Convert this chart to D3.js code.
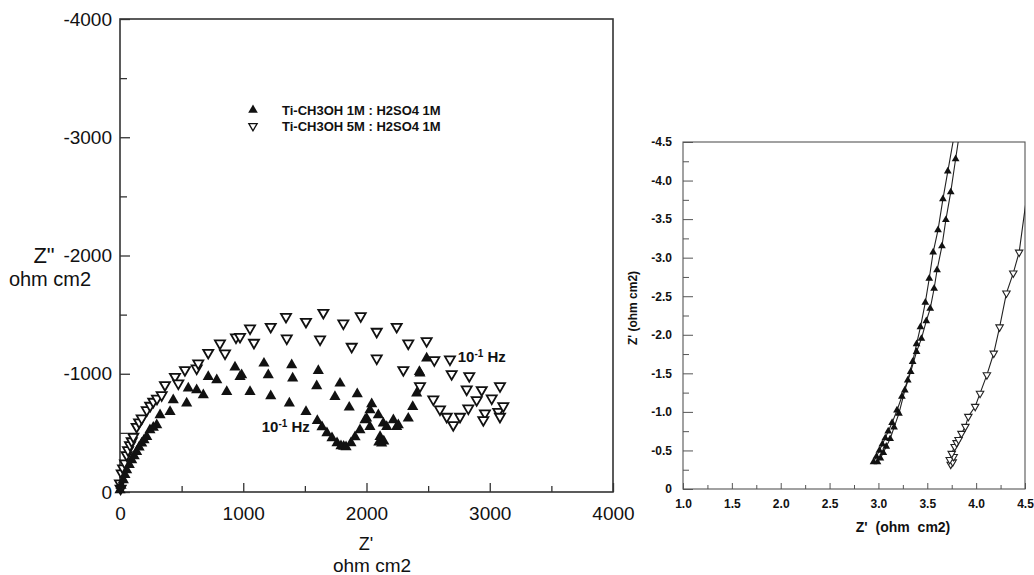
<!DOCTYPE html>
<html>
<head>
<meta charset="utf-8">
<script src="https://cdn.jsdelivr.net/npm/d3@7"></script>
<style>
  body { margin: 0; background: #fff; }
  svg { display: block; }
  text { font-family: "Liberation Sans", Arial, sans-serif; fill: #111; }
</style>
</head>
<body>
<svg id="chart" width="1034" height="575"></svg>
<script>
// ---- main Nyquist plot ----
const seriesNames = ["Ti-CH3OH 1M : H2SO4 1M", "Ti-CH3OH 5M : H2SO4 1M"];
const mainTicksX = [0, 1000, 2000, 3000, 4000];
const mainTicksY = [0, -1000, -2000, -3000, -4000];

// Ti-CH3OH 1M (filled triangles)
const ti1Re = [0, 8, 27, 40, 54, 75, 95, 115, 135, 155, 176, 195, 217, 243, 270, 298, 325, 406, 432, 541, 554, 622, 676,
  716, 785, 866, 933, 974, 987, 1055, 1168, 1203, 1223, 1374, 1393, 1401, 1509, 1596, 1609, 1601, 1744, 1785, 1860, 1925,
  1639, 1679, 1720, 1761, 1793, 1815, 1834, 1874, 1907, 1947, 1988, 2028, 2001, 2042, 2028, 2096, 2100, 2110, 2123, 2140,
  2136, 2164, 2218, 2245, 2258, 2339, 2375, 2407, 2434, 2429, 2488];
const ti1Im = [-17, -55, -101, -145, -186, -230, -271, -305, -341, -378, -412, -440, -468, -524, -545, -567, -651, -679, -778, -750, -877, -863, -820,
  -975, -947, -848, -1055, -975, -989, -848, -1088, -989, -812, -750, -1074, -962, -679, -896, -1026, -603, -806, -919, -716, -829,
  -550, -499, -457, -414, -389, -385, -381, -414, -465, -524, -609, -693, -623, -744, -552, -651, -420, -468, -412, -430,
  -581, -552, -609, -552, -567, -623, -721, -835, -1004, -1017, -1131];

// Ti-CH3OH 5M (open triangles)
const ti5Re = [0, 5, 14, 25, 41, 54, 65, 81, 95, 108, 135, 155, 176, 217, 245, 270, 300, 338, 365, 446, 473, 527, 622, 635,
  716, 852, 811, 941, 974, 1055, 1087, 1223, 1347, 1353, 1509, 1650, 1623, 1812, 1880, 1953, 2083, 2083, 2245, 2339, 2299,
  2488, 2434, 2550, 2677, 2691, 2834, 2813, 2935, 3083, 2542, 2596, 2651, 2704, 2759, 2826, 2894, 2961, 3016, 3069, 3110,
  3083, 2948];
const ti5Im = [-74, -30, -158, -200, -243, -313, -355, -397, -430, -468, -552, -590, -623, -693, -730, -764, -790, -820, -905, -975, -919, -1032, -1046, -1088,
  -1178, -1173, -1257, -1308, -1313, -1384, -1263, -1398, -1482, -1300, -1440, -1516, -1291, -1427, -1229, -1488, -1356, -1131, -1398, -1257, -1032,
  -1277, -896, -1116, -1122, -998, -981, -868, -863, -896, -784, -699, -637, -567, -637, -708, -778, -666, -792, -679, -727,
  -637, -609];

// low frequency markers
const freqLabels = [{re: 1150, im: -510}, {re: 2740, im: -1100}];

// ---- inset (high frequency zoom) ----
const insetTicksX = [1.0, 1.5, 2.0, 2.5, 3.0, 3.5, 4.0, 4.5];
const insetTicksY = [0, -0.5, -1.0, -1.5, -2.0, -2.5, -3.0, -3.5, -4.0, -4.5];

// 1M, two close branches
const in1aRe = [2.95, 2.98, 3.01, 3.04, 3.07, 3.10, 3.14, 3.19, 3.24, 3.30, 3.35, 3.39, 3.43, 3.48, 3.52, 3.56, 3.61, 3.66, 3.71, 3.78];
const in1aIm = [-0.35, -0.42, -0.50, -0.58, -0.66, -0.75, -0.86, -1.02, -1.20, -1.41, -1.65, -1.88, -2.10, -2.42, -2.73, -3.07, -3.36, -3.76, -4.12, -4.62];
const in1bRe = [2.99, 3.02, 3.05, 3.08, 3.12, 3.16, 3.21, 3.27, 3.33, 3.39, 3.44, 3.49, 3.53, 3.57, 3.60, 3.65, 3.69, 3.74, 3.79, 3.83];
const in1bIm = [-0.35, -0.40, -0.47, -0.55, -0.65, -0.80, -0.98, -1.28, -1.52, -1.78, -1.95, -2.18, -2.34, -2.60, -2.84, -3.15, -3.49, -3.85, -4.28, -4.62];
// 5M
const in5Re = [3.74, 3.76, 3.73, 3.77, 3.75, 3.78, 3.80, 3.82, 3.85, 3.89, 3.92, 3.99, 4.04, 4.11, 4.18, 4.24, 4.31, 4.38, 4.44, 4.55];
const in5Im = [-0.32, -0.35, -0.38, -0.42, -0.46, -0.55, -0.60, -0.64, -0.72, -0.81, -0.94, -1.07, -1.24, -1.48, -1.76, -2.10, -2.54, -2.80, -3.07, -4.10];

const svg = d3.select("#chart");
const zip = (a, b) => a.map((v, i) => [v, b[i]]);

// ===== main plot =====
const m = {left: 120, right: 613, top: 19, bottom: 492};
const x = d3.scaleLinear().domain([0, 4000]).range([m.left, m.right]);
const y = d3.scaleLinear().domain([0, -4000]).range([m.bottom, m.top]);

const main = svg.append("g");

main.append("rect")
  .attr("x", m.left).attr("y", m.top)
  .attr("width", m.right - m.left).attr("height", m.bottom - m.top)
  .attr("fill", "none").attr("stroke", "#333").attr("stroke-width", 1.6);

function styleAxis(g, size) {
  g.select(".domain").remove();
  g.selectAll(".tick line").attr("stroke", "#333").attr("stroke-width", 1.3);
  g.selectAll("text").attr("font-size", size).attr("fill", "#111");
}

main.append("g")
  .attr("transform", `translate(${m.left},0)`)
  .call(d3.axisLeft(y).tickValues(mainTicksY).tickSize(-10).tickPadding(8).tickFormat(d => String(d)))
  .call(g => styleAxis(g, 19));
main.append("g")
  .attr("transform", `translate(${m.left},0)`)
  .call(d3.axisLeft(y).tickValues(d3.range(-500, -4000, -1000)).tickSize(-7).tickFormat(""))
  .call(g => styleAxis(g, 19));
main.append("g")
  .attr("transform", `translate(0,${m.bottom})`)
  .call(d3.axisBottom(x).tickValues(mainTicksX).tickSize(-9).tickPadding(15).tickFormat(d => String(d)))
  .call(g => styleAxis(g, 19));
main.append("g")
  .attr("transform", `translate(0,${m.bottom})`)
  .call(d3.axisBottom(x).tickValues(d3.range(500, 4000, 1000)).tickSize(-6).tickFormat(""))
  .call(g => styleAxis(g, 19));

// axis titles
main.append("text").attr("x", 44).attr("y", 263).attr("text-anchor", "middle")
  .attr("font-size", 22).text("Z\"");
main.append("text").attr("x", 50).attr("y", 286).attr("text-anchor", "middle")
  .attr("font-size", 20).text("ohm cm2");
main.append("text").attr("x", 366).attr("y", 550).attr("text-anchor", "middle")
  .attr("font-size", 18).text("Z'");
main.append("text").attr("x", 372).attr("y", 572).attr("text-anchor", "middle")
  .attr("font-size", 19).text("ohm cm2");

const triUp = d3.symbol().type(d3.symbolTriangle);

main.append("g").selectAll("path")
  .data(zip(ti5Re, ti5Im))
  .join("path")
  .attr("transform", d => `translate(${x(d[0])},${y(d[1])}) rotate(180)`)
  .attr("d", triUp.size(44)())
  .attr("fill", "#fff").attr("stroke", "#111").attr("stroke-width", 1.8);

main.append("g").selectAll("path")
  .data(zip(ti1Re, ti1Im))
  .join("path")
  .attr("transform", d => `translate(${x(d[0])},${y(d[1])})`)
  .attr("d", triUp.size(54)())
  .attr("fill", "#111");

// 10^-1 Hz labels
freqLabels.forEach(f => {
  const t = main.append("text")
    .attr("x", x(f.re)).attr("y", y(f.im))
    .attr("font-size", 15).attr("font-weight", "bold");
  t.append("tspan").text("10");
  t.append("tspan").attr("font-size", 10).attr("dy", -5).text("-1");
  t.append("tspan").attr("dy", 5).text(" Hz");
});

// legend
const legend = main.append("g").attr("transform", "translate(253,110)");
seriesNames.forEach((name, i) => {
  const row = legend.append("g").attr("transform", `translate(0,${i * 16})`);
  row.append("path")
    .attr("d", triUp.size(i === 0 ? 40 : 30)())
    .attr("transform", i === 0 ? null : "rotate(180)")
    .attr("fill", i === 0 ? "#111" : "#fff")
    .attr("stroke", i === 0 ? "none" : "#111").attr("stroke-width", 1.3);
  row.append("text").attr("x", 29).attr("y", 5)
    .attr("font-size", 13).attr("font-weight", "bold").text(name);
});

// ===== inset =====
const n = {left: 683, right: 1025, top: 142, bottom: 489};
const xi = d3.scaleLinear().domain([1.0, 4.5]).range([n.left, n.right]);
const yi = d3.scaleLinear().domain([0, -4.5]).range([n.bottom, n.top]);

const inset = svg.append("g");
inset.append("clipPath").attr("id", "insetClip")
  .append("rect").attr("x", n.left).attr("y", n.top)
  .attr("width", n.right - n.left).attr("height", n.bottom - n.top);

inset.append("rect")
  .attr("x", n.left).attr("y", n.top)
  .attr("width", n.right - n.left).attr("height", n.bottom - n.top)
  .attr("fill", "none").attr("stroke", "#555").attr("stroke-width", 1.1);

const fmt1 = d => d === 0 ? "0" : d.toFixed(1);
function styleInset(g) {
  g.select(".domain").remove();
  g.selectAll(".tick line").attr("stroke", "#555").attr("stroke-width", 1);
  g.selectAll("text").attr("font-size", 12).attr("font-weight", "bold").attr("fill", "#222");
}
inset.append("g")
  .attr("transform", `translate(${n.left},0)`)
  .call(d3.axisLeft(yi).tickValues(insetTicksY).tickSize(-10).tickPadding(11).tickFormat(fmt1))
  .call(styleInset);
inset.append("g")
  .attr("transform", `translate(${n.left},0)`)
  .call(d3.axisLeft(yi).tickValues(d3.range(-0.25, -4.5, -0.5)).tickSize(-6).tickFormat(""))
  .call(styleInset);
inset.append("g")
  .attr("transform", `translate(0,${n.bottom})`)
  .call(d3.axisBottom(xi).tickValues(insetTicksX).tickSize(-6).tickPadding(10).tickFormat(d => d.toFixed(1)))
  .call(styleInset);
inset.append("g")
  .attr("transform", `translate(0,${n.bottom})`)
  .call(d3.axisBottom(xi).tickValues(d3.range(1.25, 4.5, 0.5)).tickSize(-4).tickFormat(""))
  .call(styleInset);

inset.append("text").attr("x", 903).attr("y", 532).attr("text-anchor", "middle")
  .attr("font-size", 14).attr("font-weight", "bold").attr("word-spacing", 4).text("Z'  (ohm cm2)");
inset.append("text").attr("transform", "translate(637,308) rotate(-90)").attr("text-anchor", "middle")
  .attr("font-size", 12).attr("font-weight", "bold").text("Z'  (ohm cm2)");

const plot = inset.append("g").attr("clip-path", "url(#insetClip)");
const line = d3.line().x(d => xi(d[0])).y(d => yi(d[1]));

[zip(in1aRe, in1aIm), zip(in1bRe, in1bIm), zip(in5Re, in5Im)].forEach(pts => {
  plot.append("path").datum(pts).attr("d", line)
    .attr("fill", "none").attr("stroke", "#222").attr("stroke-width", 1.1);
});

plot.append("g").selectAll("path")
  .data(zip(in5Re, in5Im))
  .join("path")
  .attr("transform", d => `translate(${xi(d[0])},${yi(d[1])}) rotate(180)`)
  .attr("d", triUp.size(24)())
  .attr("fill", "#fff").attr("stroke", "#222").attr("stroke-width", 1.1);

plot.append("g").selectAll("path")
  .data(zip(in1aRe, in1aIm).concat(zip(in1bRe, in1bIm)))
  .join("path")
  .attr("transform", d => `translate(${xi(d[0])},${yi(d[1])})`)
  .attr("d", triUp.size(26)())
  .attr("fill", "#111");
</script>
</body>
</html>
